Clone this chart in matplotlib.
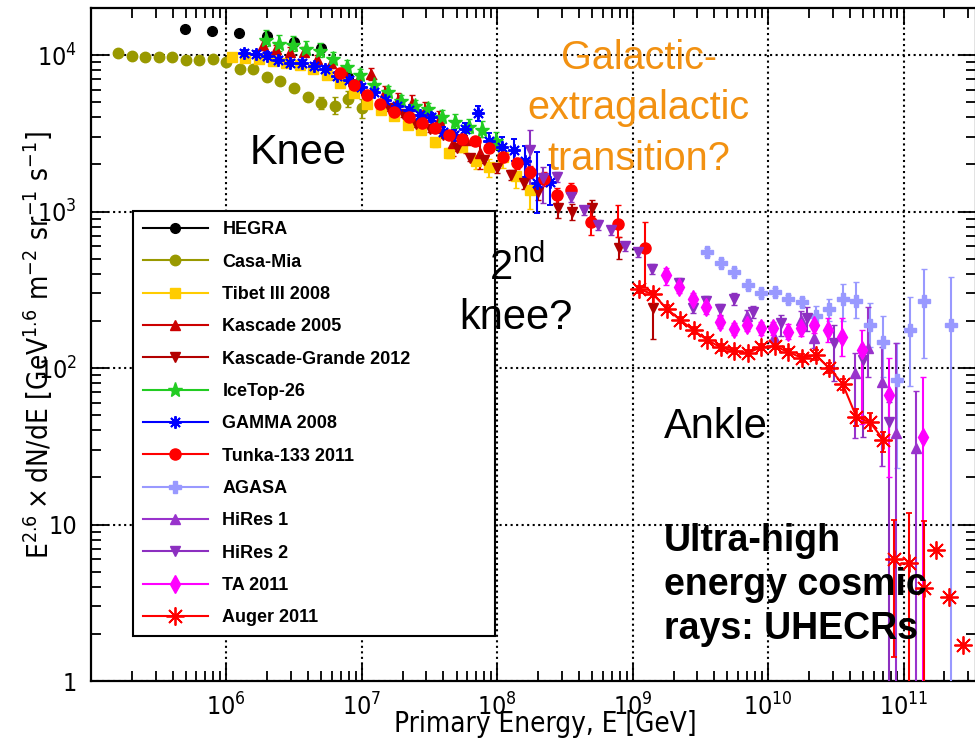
import numpy as np
import matplotlib
matplotlib.use('Agg')
import matplotlib.pyplot as plt
from matplotlib import font_manager
from matplotlib.font_manager import FontProperties
from matplotlib.lines import Line2D
from matplotlib.ticker import FixedLocator, FixedFormatter, LogLocator, NullFormatter

plt.rcParams['font.family'] = ['Liberation Sans', 'DejaVu Sans']

# narrow face for the axis text (ROOT style), whatever is installed
fl = font_manager.fontManager.ttflist
nar = [f for f in fl if f.name == 'Liberation Sans Narrow' and f.weight in (400, 'normal') and f.style == 'normal']
cond = [f for f in fl if f.name == 'DejaVu Sans' and 'condensed' in str(f.stretch)
        and f.weight in (400, 'normal', 'book') and f.style == 'normal']
if nar:
    axfont = FontProperties(fname=nar[0].fname)
    tick_fs, xlab_fs, ylab_fs = 20, 22, 24
elif cond:
    axfont = FontProperties(fname=cond[0].fname)
    tick_fs, xlab_fs, ylab_fs = 18, 20, 20
else:
    axfont = FontProperties(family='Liberation Sans')
    tick_fs, xlab_fs, ylab_fs = 17, 19, 20

# ---- data: energy [GeV], E^2.6 dN/dE, errors in dex (up / down) ----
hegra_E = [4.95e5, 7.83e5, 1.24e6, 2.0e6, 3.16e6, 5.0e6, 7.9e6]
hegra_F = [1.47e4, 1.42e4, 1.38e4, 1.32e4, 1.21e4, 1.11e4, 7.2e3]

casa_E = [1.58e5, 2.0e5, 2.5e5, 3.16e5, 3.98e5, 5.0e5, 6.3e5, 7.9e5, 1.0e6, 1.26e6,
          1.58e6, 2.0e6, 2.5e6, 3.16e6, 3.98e6, 5.0e6, 6.3e6, 7.9e6, 1.0e7]
casa_F = [1.03e4, 9.9e3, 9.75e3, 9.7e3, 9.7e3, 9.3e3, 9.3e3, 9.4e3, 9.0e3, 8.1e3,
          8.1e3, 7.3e3, 6.85e3, 6.2e3, 5.37e3, 4.96e3, 4.74e3, 5.23e3, 4.56e3]
casa_err = [0] * 15 + [0.04, 0.055, 0.05, 0.06]

tibet_E = [1.10e6, 1.38e6, 1.74e6, 2.19e6, 2.75e6, 3.47e6, 4.37e6, 5.5e6, 6.92e6, 8.7e6,
           1.10e7, 1.38e7, 1.74e7, 2.19e7, 2.75e7, 3.47e7, 4.37e7, 5.5e7, 6.92e7, 8.7e7,
           1.10e8, 1.38e8, 1.74e8]
tibet_F = [9.76e3, 9.6e3, 9.4e3, 9.2e3, 8.9e3, 8.6e3, 8.1e3, 7.45e3, 6.65e3, 5.74e3,
           4.9e3, 4.45e3, 4.08e3, 3.57e3, 3.3e3, 2.77e3, 2.37e3, 2.58e3, 2.1e3, 1.92e3,
           2.23e3, 1.69e3, 1.37e3]
tibet_up = [0.01] * 14 + [0.02, 0.03, 0.03, 0.03, 0.04, 0.05, 0.06, 0.07, 0.1]
tibet_dn = [0.01] * 14 + [0.02, 0.03, 0.03, 0.03, 0.05, 0.06, 0.07, 0.08, 0.12]

kas_E = [1.86e6, 2.34e6, 2.95e6, 3.72e6, 4.68e6, 5.89e6, 7.41e6, 9.33e6, 1.17e7, 1.48e7,
         1.86e7, 2.34e7, 2.95e7, 3.72e7, 4.68e7, 5.89e7, 7.41e7]
kas_F = [1.16e4, 1.09e4, 1.05e4, 1.05e4, 9.4e3, 8.9e3, 7.8e3, 6.9e3, 7.6e3, 5.8e3,
         5.16e3, 4.93e3, 4.45e3, 3.84e3, 2.74e3, 2.86e3, 2.37e3]
kas_err = [0.03] * 6 + [0.035, 0.035, 0.04, 0.04, 0.045, 0.05, 0.05, 0.06, 0.08, 0.08, 0.1]

kg_E = [1.58e7, 2.0e7, 2.51e7, 3.16e7, 3.98e7, 5.01e7, 6.31e7, 7.94e7, 1.0e8, 1.26e8,
        1.58e8, 2.0e8, 2.82e8, 3.55e8, 5.01e8, 7.94e8, 1.41e9]
kg_F = [4.58e3, 4.2e3, 3.62e3, 3.37e3, 3.08e3, 2.54e3, 2.2e3, 2.13e3, 1.9e3, 1.71e3,
        1.52e3, 1.33e3, 1.05e3, 993, 1.05e3, 585, 242]
kg_up = [0.02] * 8 + [0.03, 0.03, 0.04, 0.05, 0.06, 0.05, 0.05, 0.07, 0.09]
kg_dn = [0.02] * 8 + [0.03, 0.03, 0.04, 0.05, 0.06, 0.05, 0.05, 0.07, 0.2]

ice_E = [1.95e6, 2.45e6, 3.09e6, 3.89e6, 4.9e6, 6.17e6, 7.76e6, 9.77e6, 1.23e7, 1.55e7,
         1.95e7, 2.45e7, 3.09e7, 3.89e7, 4.9e7, 6.17e7, 7.76e7, 9.77e7]
ice_F = [1.25e4, 1.17e4, 1.16e4, 1.09e4, 1.06e4, 9.4e3, 8.4e3, 7.45e3, 6.4e3, 5.8e3,
         5.08e3, 4.72e3, 4.5e3, 4.0e3, 3.73e3, 3.47e3, 3.32e3, 2.82e3]
ice_up = [0.065, 0.06, 0.055, 0.05, 0.05, 0.045, 0.045, 0.04, 0.04, 0.04,
          0.04, 0.04, 0.04, 0.045, 0.05, 0.05, 0.055, 0.06]
ice_dn = [0.04, 0.04, 0.035, 0.035, 0.035, 0.03, 0.03, 0.03, 0.03, 0.03,
          0.03, 0.03, 0.03, 0.035, 0.04, 0.04, 0.045, 0.05]

gamma_E = [1.34e6, 1.65e6, 1.99e6, 2.42e6, 2.96e6, 3.61e6, 4.40e6, 5.36e6, 6.55e6, 7.98e6,
           9.84e6, 1.22e7, 1.49e7, 1.82e7, 2.21e7, 2.67e7, 3.24e7, 3.97e7, 4.76e7, 5.81e7,
           7.16e7, 8.65e7, 1.08e8, 1.32e8, 1.61e8, 1.97e8, 2.44e8]
gamma_F = [1.035e4, 1.01e4, 9.93e3, 9.3e3, 8.89e3, 8.93e3, 8.47e3, 8.14e3, 7.4e3, 6.97e3,
           6.22e3, 5.83e3, 5.15e3, 4.72e3, 4.45e3, 4.14e3, 4.0e3, 3.22e3, 3.08e3, 3.35e3,
           4.24e3, 2.82e3, 2.6e3, 2.47e3, 2.1e3, 1.52e3, 1.55e3]
gamma_up = [0.02] * 16 + [0.03, 0.03, 0.035, 0.04, 0.05, 0.05, 0.06, 0.07, 0.1, 0.2, 0.11]
gamma_dn = [0.02] * 16 + [0.03, 0.03, 0.035, 0.04, 0.05, 0.05, 0.06, 0.07, 0.1, 0.19, 0.15]

tunka_E = [6.92e6, 8.69e6, 1.09e7, 1.37e7, 1.73e7, 2.21e7, 2.78e7, 3.49e7, 4.38e7, 5.5e7,
           6.89e7, 8.69e7, 1.10e8, 1.39e8, 1.74e8, 2.20e8, 2.76e8, 3.50e8, 4.91e8, 7.76e8, 1.24e9]
tunka_F = [7.73e3, 6.43e3, 5.55e3, 4.86e3, 4.34e3, 4.03e3, 3.67e3, 3.40e3, 3.08e3, 2.93e3,
           2.82e3, 2.55e3, 2.23e3, 2.04e3, 1.79e3, 1.61e3, 1.27e3, 1.37e3, 857, 832, 585]
tunka_up = [0.025] * 12 + [0.03, 0.035, 0.04, 0.045, 0.05, 0.045, 0.11, 0.12, 0.165]
tunka_dn = [0.025] * 12 + [0.03, 0.035, 0.04, 0.045, 0.05, 0.045, 0.085, 0.08, 0.25]

agasa_E = [3.55e9, 4.47e9, 5.62e9, 7.08e9, 8.91e9, 1.12e10, 1.41e10, 1.78e10, 2.24e10, 2.82e10,
           3.55e10, 4.47e10, 5.62e10, 7.08e10, 8.91e10, 1.12e11, 1.41e11, 2.24e11]
agasa_F = [551, 469, 411, 339, 301, 308, 278, 266, 215, 237,
           278, 268, 188, 147, 83.7, 175, 268, 188]
agasa_up = [0.026] * 8 + [0.064, 0.064, 0.096, 0.121, 0.141, 0.166, 0.236, 0.211, 0.204, 0.307]
agasa_dn = [0.026] * 8 + [0.064, 0.077, 0.141, 0.109, 0.141, 0.224, 0.562, 0.358, 0.364, 9]

hr1_E = [7.0e9, 1.11e10, 1.74e10, 2.18e10, 4.36e10, 5.47e10, 6.98e10, 8.75e10, 1.23e11]
hr1_F = [215, 159, 203, 155, 92.5, 134, 81.7, 38.3, 30.9]
hr1_up = [0.04, 0.05, 0.06, 0.06, 0.128, 0.26, 0.224, 0.58, 0.364]
hr1_dn = [0.04, 0.05, 0.06, 0.06, 0.41, 0.185, 0.54, 9, 9]

hr2_E = [1.75e8, 2.17e8, 2.78e8, 3.50e8, 4.36e8, 5.52e8, 6.93e8, 8.73e8, 1.10e9, 1.39e9,
         2.21e9, 2.78e9, 3.48e9, 4.40e9, 5.55e9, 7.76e9, 1.24e10, 1.95e10, 3.07e10, 4.97e10, 7.82e10]
hr2_F = [2470, 1640, 1660, 1240, 1020, 820, 760, 600, 550, 430,
         350, 242, 268, 238, 276, 228, 194, 208, 144, 112, 45]
hr2_up = [0.128, 0.07] + [0.03] * 9 + [0.035, 0.035, 0.035, 0.04, 0.04, 0.05, 0.07, 0.115, 0.085, 0.128]
hr2_dn = [0.23, 0.16] + [0.03] * 9 + [0.035, 0.035, 0.035, 0.04, 0.04, 0.08, 0.08, 0.24, 0.49, 9]

ta_E = [1.76e9, 2.21e9, 2.79e9, 3.48e9, 4.40e9, 5.55e9, 7.0e9, 8.79e9, 1.09e10, 1.39e10,
        1.74e10, 2.18e10, 2.77e10, 3.48e10, 4.89e10, 7.82e10, 1.39e11]
ta_F = [396, 329, 276, 244, 197, 178, 189, 179, 179, 171,
        179, 188, 175, 158, 130, 67, 36.4]
ta_up = [0.04] * 9 + [0.05, 0.05, 0.05, 0.075, 0.12, 0.128, 0.236, 0.38]
ta_dn = [0.07] + [0.04] * 8 + [0.05, 0.05, 0.05, 0.075, 0.12, 0.47, 0.52, 9]

auger_E = [1.12e9, 1.41e9, 1.78e9, 2.24e9, 2.82e9, 3.55e9, 4.47e9, 5.62e9, 7.08e9, 8.91e9,
           1.12e10, 1.41e10, 1.78e10, 2.24e10, 2.82e10, 3.55e10, 4.47e10, 5.62e10, 7.08e10]
auger_F = [318, 297, 240, 203, 174, 151, 135.5, 128.5, 125, 136,
           138, 126.5, 116, 121, 100, 79, 48.9, 45.2, 34.9]
auger_up = [0.02] * 12 + [0.025, 0.03, 0.03, 0.035, 0.05, 0.055, 0.05]
auger_dn = [0.02] * 12 + [0.025, 0.03, 0.03, 0.035, 0.06, 0.055, 0.08]
# highest energies, not joined by the line
auger2_E = [8.5e10, 1.1e11, 1.42e11, 1.72e11, 2.18e11, 2.76e11]
auger2_F = [6.04, 5.65, 3.93, 6.92, 3.46, 1.70]
auger2_up = [0.247, 0.32, 0.43, 0, 0, 0]
auger2_dn = [0.63, 9, 9, 0, 0, 0]

labels = ['HEGRA', 'Casa-Mia', 'Tibet III 2008', 'Kascade 2005', 'Kascade-Grande 2012',
          'IceTop-26', 'GAMMA 2008', 'Tunka-133 2011', 'AGASA', 'HiRes 1', 'HiRes 2',
          'TA 2011', 'Auger 2011']

ASTER = (8, 2, 0)
styles = {
    'HEGRA': ('black', 'o', 7, 1),
    'Casa-Mia': ('#999900', 'o', 7.5, 1),
    'Tibet III 2008': ('#ffcc00', 's', 7, 1),
    'Kascade 2005': ('#cc0000', '^', 7.5, 1),
    'Kascade-Grande 2012': ('#b30000', 'v', 7.5, 1),
    'IceTop-26': ('#22cc22', '*', 11, 1),
    'GAMMA 2008': ('#0000ff', ASTER, 9, 1.4),
    'Tunka-133 2011': ('#ff0000', 'o', 8, 1),
    'AGASA': ('#9999ff', 'P', 8, 1),
    'HiRes 1': ('#9933cc', '^', 7.5, 1),
    'HiRes 2': ('#8c2fc0', 'v', 7.5, 1),
    'TA 2011': ('#ff00ff', 'd', 9, 1),
    'Auger 2011': ('#ff0000', ASTER, 13, 1.3),
}

fig = plt.figure(figsize=(9.75, 7.42), dpi=100)
ax = fig.add_axes([0.0933, 0.0822, 0.9077, 0.907])


def draw(name, E, F, up, dn, line=False, z=3):
    c, m, ms, mew = styles[name]
    F = np.array(F, dtype=float)
    up = np.array(up, dtype=float)
    dn = np.array(dn, dtype=float)
    lo = F - F * 10 ** (-dn)
    hi = F * 10 ** up - F
    ax.errorbar(E, F, yerr=[lo, hi], fmt='', marker=m, color=c, mec=c, mfc=c, ms=ms, mew=mew,
                elinewidth=1.5, capsize=2.5, capthick=1.5,
                ls='-' if line else 'none', lw=1.5, zorder=z)


c, m, ms, mew = styles['HEGRA']
ax.plot(hegra_E, hegra_F, ls='none', marker=m, color=c, ms=ms, zorder=3)
draw('Casa-Mia', casa_E, casa_F, casa_err, casa_err)
draw('Tibet III 2008', tibet_E, tibet_F, tibet_up, tibet_dn)
draw('Kascade 2005', kas_E, kas_F, kas_err, kas_err)
draw('Kascade-Grande 2012', kg_E, kg_F, kg_up, kg_dn)
draw('IceTop-26', ice_E, ice_F, ice_up, ice_dn)
draw('GAMMA 2008', gamma_E, gamma_F, gamma_up, gamma_dn)
draw('Tunka-133 2011', tunka_E, tunka_F, tunka_up, tunka_dn)
draw('AGASA', agasa_E, agasa_F, agasa_up, agasa_dn)
draw('HiRes 1', hr1_E, hr1_F, hr1_up, hr1_dn)
draw('HiRes 2', hr2_E, hr2_F, hr2_up, hr2_dn)
draw('TA 2011', ta_E, ta_F, ta_up, ta_dn)
draw('Auger 2011', auger_E, auger_F, auger_up, auger_dn, line=True)
draw('Auger 2011', auger2_E, auger2_F, auger2_up, auger2_dn)

ax.set_xscale('log')
ax.set_yscale('log')
ax.set_xlim(1e5, 3.42e11)
ax.set_ylim(1, 2.0e4)

xt = [1e6, 1e7, 1e8, 1e9, 1e10, 1e11]
ax.xaxis.set_major_locator(FixedLocator(xt))
ax.xaxis.set_major_formatter(FixedFormatter([r'$\mathregular{10^{%d}}$' % k for k in range(6, 12)]))
yt = [1, 10, 100, 1000, 10000]
ax.yaxis.set_major_locator(FixedLocator(yt))
ax.yaxis.set_major_formatter(FixedFormatter(['1', '10', r'$\mathregular{10^{2}}$',
                                             r'$\mathregular{10^{3}}$', r'$\mathregular{10^{4}}$']))
for axis in (ax.xaxis, ax.yaxis):
    axis.set_minor_locator(LogLocator(base=10, subs=np.arange(2, 10), numticks=30))
    axis.set_minor_formatter(NullFormatter())

ax.tick_params(which='both', direction='in', top=True, right=True, width=1.3)
ax.tick_params(which='major', length=12)
ax.tick_params(which='minor', length=7)
ax.tick_params(axis='x', which='major', pad=9)
ax.tick_params(axis='y', which='major', pad=10)
for lab in ax.get_xticklabels() + ax.get_yticklabels():
    lab.set_fontproperties(axfont)
    lab.set_fontsize(tick_fs)
for s in ax.spines.values():
    s.set_linewidth(1.6)

ax.grid(True, which='major', ls=':', color='black', lw=1.5)
ax.set_axisbelow(True)

fig.text(545 / 975, 1 - 724 / 742, 'Primary Energy, E [GeV]', fontproperties=axfont,
         fontsize=xlab_fs, ha='center', va='center')
fig.text(38 / 975, 1 - 345 / 742,
         r'$\mathregular{E^{2.6}\times dN/dE\ [GeV^{1.6}\ m^{-2}\ sr^{-1}\ s^{-1}]}$',
         fontproperties=axfont, fontsize=ylab_fs, rotation=90, ha='center', va='center')

# annotations (drawn over the legend, as in the slide)
ax.text(0.234, 0.7845, 'Knee', transform=ax.transAxes, ha='center', va='center', fontsize=30, zorder=30)
ax.text(0.619, 0.851, 'Galactic-\nextragalactic\ntransition?', transform=ax.transAxes,
        ha='center', va='center', fontsize=28.5, color='#f29111', linespacing=1.42, zorder=30)
ax.text(0.482, 0.614, r'$\mathregular{2^{nd}}$', transform=ax.transAxes, ha='center', va='center',
        fontsize=30, zorder=30)
ax.text(0.480, 0.539, 'knee?', transform=ax.transAxes, ha='center', va='center', fontsize=30, zorder=30)
ax.text(0.706, 0.377, 'Ankle', transform=ax.transAxes, ha='center', va='center', fontsize=30, zorder=30)
ax.text(0.647, 0.1426, 'Ultra-high\nenergy cosmic\nrays: UHECRs', transform=ax.transAxes,
        ha='left', va='center', fontsize=27, fontweight='bold', linespacing=1.28, zorder=30)

handles = []
for name in labels:
    c, m, ms, mew = styles[name]
    handles.append(Line2D([], [], color=c, marker=m, ms=ms, mew=mew, lw=1.5))
leg = ax.legend(handles, labels, loc='upper left', mode='expand',
                bbox_to_anchor=(0.0475, 0.0713, 0.4095, 0.6267),
                prop={'weight': 'bold', 'size': 13}, frameon=True, fancybox=False,
                edgecolor='black', framealpha=1, handlelength=3.6, handletextpad=0.8,
                labelspacing=0.85, borderpad=0.55, borderaxespad=0)
leg.get_frame().set_linewidth(1.5)
leg.set_zorder(20)

fig.savefig('out.png', dpi=100)
